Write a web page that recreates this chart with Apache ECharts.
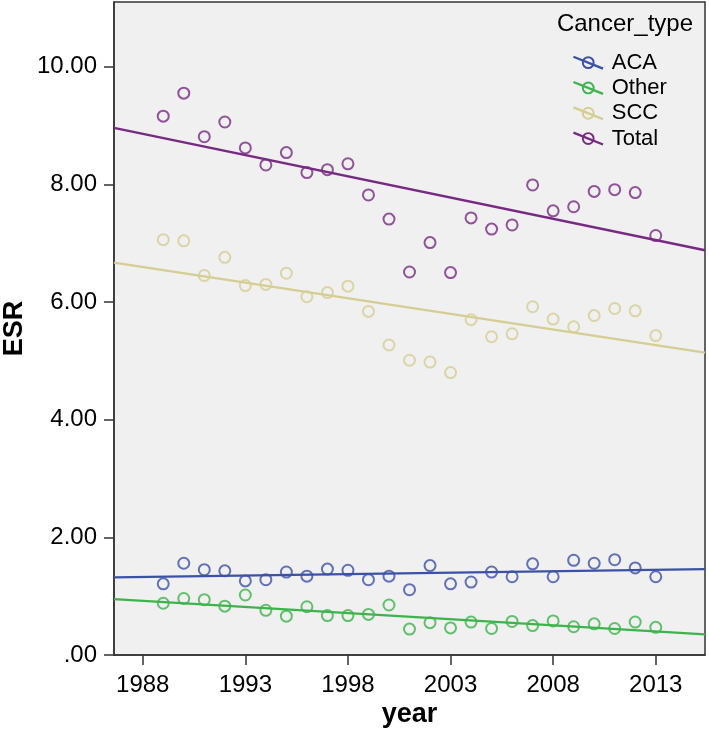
<!DOCTYPE html>
<html>
<head>
<meta charset="utf-8">
<script src="https://cdn.jsdelivr.net/npm/echarts@6/dist/echarts.min.js"></script>
<style>
html,body{margin:0;padding:0;background:#fff;}
#chart{width:709px;height:738px;}
</style>
</head>
<body>
<div id="chart"></div>
<script>
// ---- data ----
var years = [1989,1990,1991,1992,1993,1994,1995,1996,1997,1998,1999,2000,2001,2002,2003,2004,2005,2006,2007,2008,2009,2010,2011,2012,2013];
var aca   = [1.21,1.56,1.45,1.43,1.26,1.28,1.41,1.34,1.46,1.44,1.28,1.34,1.11,1.52,1.21,1.24,1.41,1.33,1.55,1.33,1.61,1.56,1.62,1.48,1.33];
var other = [0.88,0.96,0.94,0.83,1.02,0.76,0.66,0.82,0.67,0.67,0.69,0.85,0.44,0.55,0.46,0.56,0.45,0.57,0.50,0.58,0.48,0.53,0.45,0.56,0.47];
var scc   = [7.06,7.04,6.45,6.76,6.28,6.30,6.49,6.09,6.16,6.27,5.84,5.27,5.01,4.98,4.80,5.70,5.41,5.46,5.92,5.71,5.58,5.77,5.89,5.85,5.43];
var total = [9.16,9.55,8.81,9.06,8.62,8.33,8.54,8.20,8.25,8.35,7.82,7.41,6.51,7.01,6.50,7.43,7.24,7.31,7.99,7.55,7.62,7.88,7.91,7.86,7.13];

// fit line end points (read at the plot edges)
var fitYears = [1986.6, 2015.4];
var acaFit   = [1.32, 1.46];
var otherFit = [0.95, 0.35];
var sccFit   = [6.67, 5.14];
var totalFit = [8.96, 6.88];

var xTicks = [1988,1993,1998,2003,2008,2013];
var yTicks = [0,2,4,6,8,10];
var typeNames = ['ACA','Other','SCC','Total'];
var colors = ['#3c51a6','#3cb44b','#d5ce93','#782a83'];

var FONT = 'Liberation Sans, Arial, sans-serif';

function pairs(xs, ys){ return xs.map(function(x,i){ return [x, ys[i]]; }); }

var pointsByType = [aca, other, scc, total];
var fitsByType = [acaFit, otherFit, sccFit, totalFit];

var iconPath = 'path://M8.5,7 A6.5,6.5 0 1,1 21.5,7 A6.5,6.5 0 1,1 8.5,7 Z M10.5,7 A4.5,4.5 0 1,0 19.5,7 A4.5,4.5 0 1,0 10.5,7 Z M0.45,-0.1 L30.45,11.9 L29.55,14.1 L-0.45,2.1 Z';

var series = [];
typeNames.forEach(function(n, i){
  series.push({
    name: n,
    type: 'line',
    data: pairs(fitYears, fitsByType[i]),
    showSymbol: false,
    symbol: 'none',
    color: colors[i],
    lineStyle: {color: colors[i], width: 2.4},
    silent: true,
    z: 2
  });
});
typeNames.forEach(function(n, i){
  series.push({
    name: n,
    type: 'scatter',
    data: pairs(years, pointsByType[i]),
    symbol: 'circle',
    symbolSize: 11,
    itemStyle: {color: 'rgba(0,0,0,0)', borderColor: colors[i], borderWidth: 2},
    z: 3
  });
});

var chart = echarts.init(document.getElementById('chart'), null, {renderer: 'canvas'});
chart.setOption({
  animation: false,
  backgroundColor: '#ffffff',
  textStyle: {fontFamily: FONT},
  title: {
    text: 'Cancer_type',
    right: 11,
    top: 7,
    textStyle: {fontFamily: FONT, fontSize: 24, fontWeight: 'normal', color: '#000'}
  },
  legend: {
    data: typeNames.map(function(n){ return {name: n, icon: iconPath}; }),
    orient: 'vertical',
    left: 568,
    top: 45,
    itemWidth: 31,
    itemHeight: 14,
    itemGap: 0,
    itemStyle: {borderWidth: 0},
    textStyle: {fontFamily: FONT, fontSize: 22, color: '#000', lineHeight: 25.3, padding: [0,0,0,3]},
    selectedMode: false
  },
  grid: {
    left: 114, top: 2, right: 4, bottom: 83,
    show: true,
    backgroundColor: '#f0f0f0',
    borderColor: '#333',
    borderWidth: 1.5,
    containLabel: false,
    outerBoundsMode: 'none'
  },
  xAxis: {
    type: 'value',
    min: fitYears[0],
    max: fitYears[1],
    name: 'year',
    nameLocation: 'middle',
    nameGap: 46,
    nameMoveOverlap: false,
    nameTextStyle: {fontFamily: FONT, fontSize: 27, fontWeight: 'bold', color: '#000'},
    axisLine: {show: true, lineStyle: {color: '#333', width: 1.5}},
    axisTick: {show: true, length: 10, lineStyle: {color: '#333', width: 1.5}, customValues: xTicks},
    axisLabel: {customValues: xTicks, fontFamily: FONT, fontSize: 24, color: '#000', margin: 18,
      formatter: function(v){ return String(Math.round(v)); }},
    splitLine: {show: false}
  },
  yAxis: {
    type: 'value',
    min: 0,
    max: 11.1,
    name: 'ESR',
    nameLocation: 'middle',
    nameGap: 86,
    nameRotate: 90,
    nameMoveOverlap: false,
    nameTextStyle: {fontFamily: FONT, fontSize: 27, fontWeight: 'bold', color: '#000'},
    axisLine: {show: true, lineStyle: {color: '#333', width: 1.5}},
    axisTick: {show: true, length: 10, lineStyle: {color: '#333', width: 1.5}, customValues: yTicks},
    axisLabel: {customValues: yTicks, fontFamily: FONT, fontSize: 24, color: '#000', margin: 17,
      formatter: function(v){ return v === 0 ? '.00' : v.toFixed(2); }},
    splitLine: {show: false}
  },
  series: series
});
</script>
</body>
</html>
